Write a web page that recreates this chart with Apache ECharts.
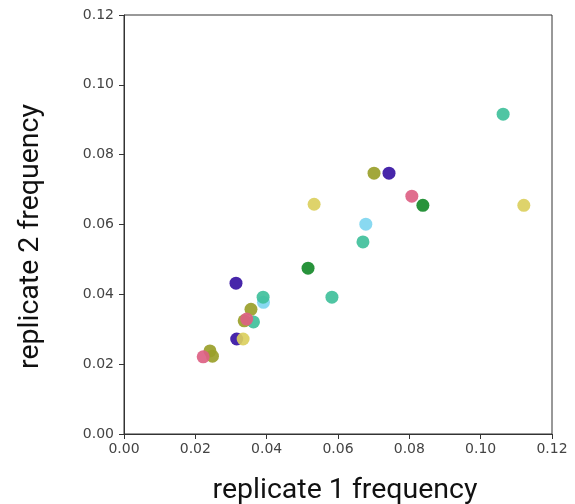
<!DOCTYPE html>
<html><head><meta charset="utf-8">
<script src="https://cdn.jsdelivr.net/npm/echarts@6/dist/echarts.min.js"></script>
<style>html,body{margin:0;padding:0;background:#fff}#c{width:575px;height:504px}</style>
</head><body><div id="c"></div>
<script>
const xTicks = [0, 0.02, 0.04, 0.06, 0.08, 0.10, 0.12];
const groupNames = ['indigo','cyan','teal','green','olive','sand','rose'];
const groupColors = ['#3713a3','#7fd6f0','#40c09b','#168a2a','#9aa02a','#dbcf5e','#dd6184'];
const indigoPts = [[0.0743,0.0747],[0.0314,0.0432],[0.0316,0.0272]];
const cyanPts = [[0.0678,0.0601],[0.0391,0.0377]];
const tealPts = [[0.1063,0.0916],[0.0670,0.0550],[0.0583,0.0392],[0.0390,0.0392],[0.0363,0.0321]];
const greenPts = [[0.0838,0.0655],[0.0516,0.0475]];
const olivePts = [[0.0701,0.0747],[0.0356,0.0357],[0.0337,0.0324],[0.0241,0.0238],[0.0248,0.0223]];
const sandPts = [[0.1121,0.0655],[0.0533,0.0658],[0.0334,0.0272]];
const rosePts = [[0.0807,0.0681],[0.0344,0.0329],[0.0222,0.0221]];
const groups = [indigoPts,cyanPts,tealPts,greenPts,olivePts,sandPts,rosePts];

const chart = echarts.init(document.getElementById('c'), null, {renderer:'canvas'});
const axisCommon = {
  min: 0, max: 0.12, interval: 0.02,
  axisLine: {show:true, onZero:false, lineStyle:{color:'#333', width:1}},
  axisTick: {show:true, inside:false, length:5, lineStyle:{color:'#333'}},
  splitLine: {show:false},
  axisLabel: {color:'#444', fontFamily:'DejaVu Sans', fontSize:14, formatter: v => v.toFixed(2)},
  nameLocation:'middle'
};
chart.setOption({
  animation:false,
  grid:{left:124, right:23, top:15, bottom:70, outerBoundsMode:'none', containLabel:false,
        show:true, borderColor:'#333', borderWidth:1, backgroundColor:'transparent'},
  xAxis: Object.assign({}, axisCommon, {type:'value', name:'replicate 1 frequency', nameGap:42,
    nameTextStyle:{color:'#111', fontFamily:'Roboto', fontSize:28.5, padding:[0,0,0,14]},
    axisLabel: Object.assign({}, axisCommon.axisLabel, {margin:8})}),
  yAxis: Object.assign({}, axisCommon, {type:'value', name:'replicate 2 frequency', nameGap:79,
    nameTextStyle:{color:'#111', fontFamily:'Roboto', fontSize:28.5, padding:[0,24,0,0]},
    axisLabel: Object.assign({}, axisCommon.axisLabel, {margin:10})}),
  series: groups.map((g,i) => ({
    type:'scatter', name:groupNames[i], data:g, symbolSize:13,
    itemStyle:{color:groupColors[i], opacity:0.92}
  }))
});
</script></body></html>
